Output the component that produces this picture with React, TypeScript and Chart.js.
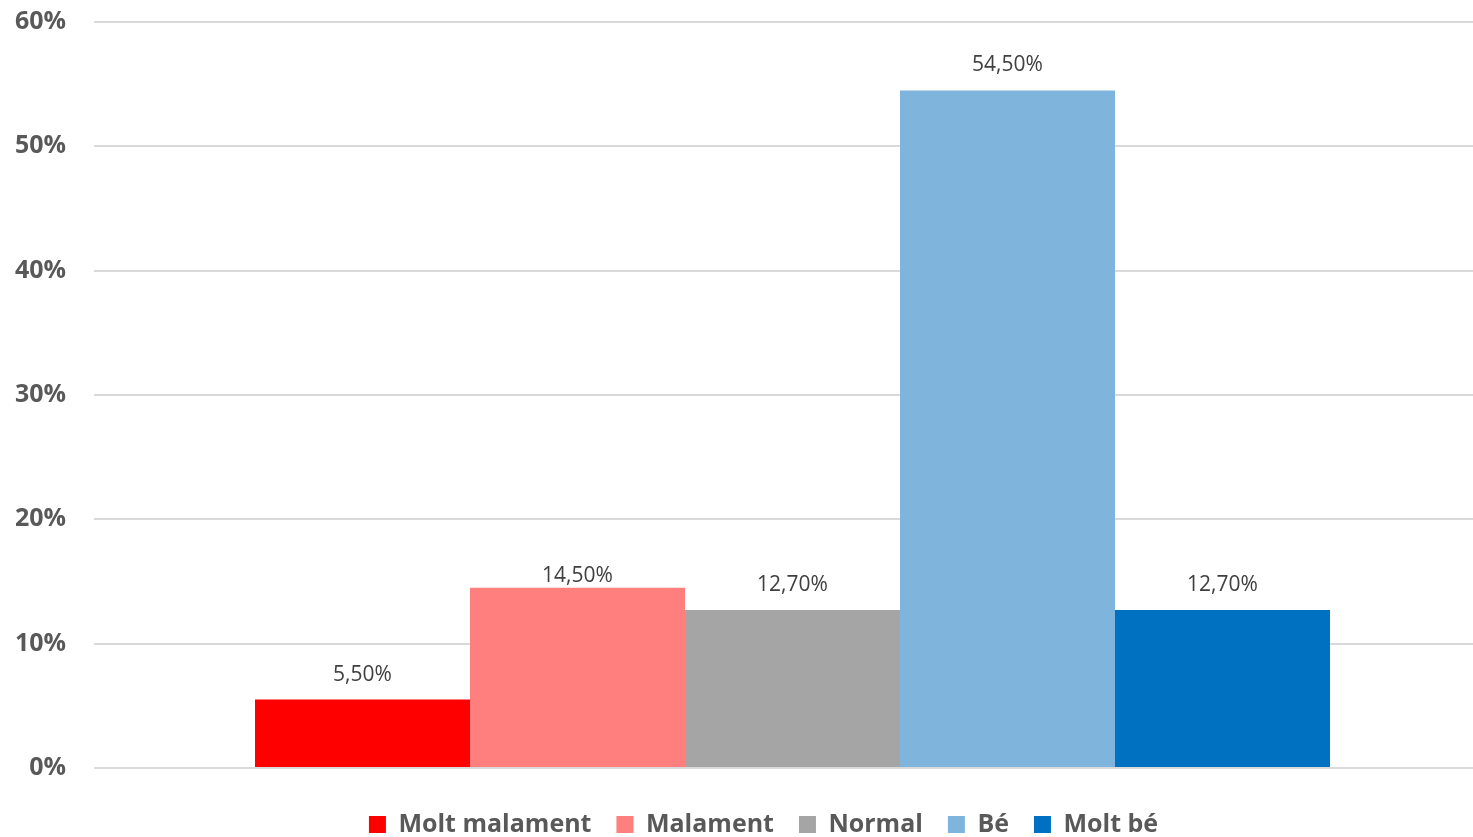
import React, { useEffect, useRef } from "react";
import { Chart, registerables } from "chart.js";

Chart.register(...registerables);

const categories = [""];
const seriesNames = ["Molt malament", "Malament", "Normal", "Bé", "Molt bé"];
const seriesValues = [5.5, 14.5, 12.7, 54.5, 12.7];
const seriesColors = ["#FF0000", "#FF7F7F", "#A5A5A5", "#7FB4DC", "#0070C0"];
const yTicks = [0, 10, 20, 30, 40, 50, 60];

const FONT = "'Open Sans', 'DejaVu Sans', sans-serif";

const labelPlugin = {
  id: "valueLabels",
  afterLayout(chart: any) {
    const x = chart.scales.x;
    x.right = x.right + 18;
    x.configure();
    const lg = chart.legend;
    if (lg) {
      lg.left += 27;
      lg.right += 27;
    }
  },
  afterDatasetsDraw(chart: any) {
    const ctx = chart.ctx;
    ctx.save();
    ctx.font = `21px ${FONT}`;
    ctx.fillStyle = "#404040";
    ctx.textAlign = "center";
    ctx.textBaseline = "middle";
    chart.data.datasets.forEach((ds: any, i: number) => {
      const meta = chart.getDatasetMeta(i);
      meta.data.forEach((bar: any, j: number) => {
        const v = ds.data[j] as number;
        const txt = v.toFixed(2).replace(".", ",") + "%";
        const off = ds.labelOffset ?? 25;
        ctx.fillText(txt, bar.x, bar.y - off);
      });
    });
    ctx.restore();
  },
};

export default function App() {
  const ref = useRef<HTMLCanvasElement>(null);
  useEffect(() => {
    if (!ref.current) return;
    const chart = new Chart(ref.current, {
      type: "bar",
      data: {
        labels: categories,
        datasets: seriesNames.map((name, i) => ({
          label: name,
          data: [seriesValues[i]],
          backgroundColor: seriesColors[i],
          borderWidth: 0,
          categoryPercentage: 0.7695,
          barPercentage: 1,
          labelOffset: name === "Malament" ? 12 : 25,
        })),
      },
      options: {
        animation: false,
        responsive: false,
        maintainAspectRatio: false,
        layout: { padding: { top: 22, right: 0, left: 0, bottom: -10 } },
        scales: {
          x: {
            display: true,
            grid: { display: false },
            border: { display: false },
            ticks: { display: false },
            afterFit: (scale: any) => {
              scale.height = 19;
            },
          },
          y: {
            min: 0,
            max: 60,
            afterBuildTicks: (axis: any) => {
              axis.ticks = yTicks.map((v) => ({ value: v }));
            },
            afterFit: (scale: any) => {
              scale.width = 94;
              scale.paddingTop = 0;
              scale.paddingBottom = 0;
            },
            ticks: {
              callback: (v: any) => v + "%",
              font: { family: FONT, size: 25, weight: "bold" },
              color: "#595959",
              padding: 28,
            },
            grid: { color: "#D9D9D9", lineWidth: 2, drawTicks: false },
            border: { display: false },
          },
        },
        plugins: {
          legend: {
            position: "bottom",
            labels: {
              font: { family: FONT, size: 25, weight: "bold" },
              color: "#595959",
              boxWidth: 17,
              boxHeight: 17,
              padding: 25,
            },
          },
          tooltip: { enabled: false },
        },
      },
      plugins: [labelPlugin],
    } as any);
    return () => chart.destroy();
  }, []);
  return (
    <div style={{ position: "fixed", left: 0, top: 0, width: 1473, height: 837, background: "#fff" }}>
      <canvas ref={ref} width={1473} height={837} />
    </div>
  );
}
